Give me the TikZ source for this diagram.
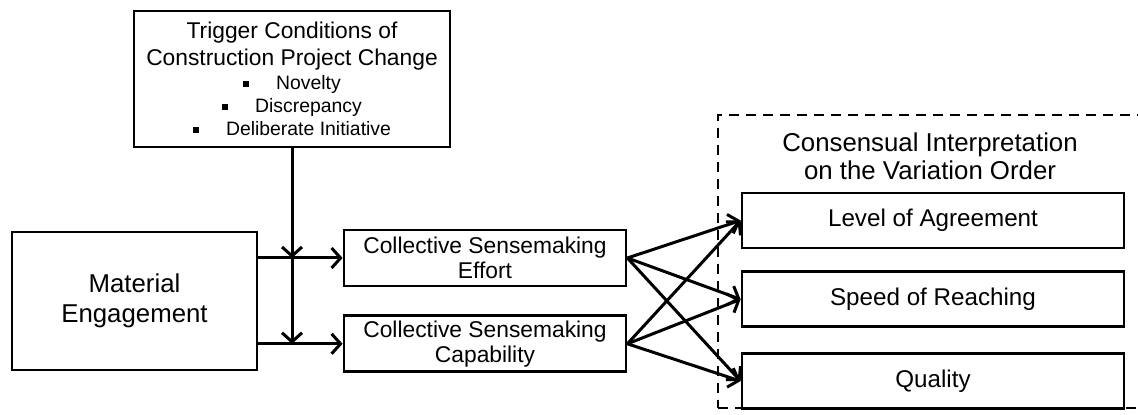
\documentclass[tikz,border=0pt]{standalone}
\usepackage{fontspec}
\setmainfont{Liberation Sans}
\usepackage{tikz}
\usetikzlibrary{arrows.meta,positioning,calc}
\tikzset{
  block/.style={draw, line width=1.4pt, align=center, inner sep=0pt, fill=white},
  trigger/.style={block, minimum width=158pt, minimum height=68pt,
    font=\fontsize{11.4}{13.5}\selectfont},
  source/.style={block, minimum width=122.5pt, minimum height=69pt,
    font=\fontsize{12.9}{15}\selectfont},
  sensemaking/.style={block, minimum width=141pt, minimum height=28pt,
    font=\fontsize{11.4}{12.5}\selectfont},
  outcome/.style={block, minimum width=191pt, minimum height=27.5pt,
    font=\fontsize{12.1}{14}\selectfont},
  frame/.style={draw, line width=1.4pt, dash pattern=on 5pt off 3.5pt,
    minimum width=221pt, minimum height=146.5pt, inner sep=0pt},
  wire/.style={-{Straight Barb[length=4.5pt, width=10pt]}, line width=1.5pt},
  titletext/.style={align=center, font=\fontsize{12.9}{14}\selectfont}
}
\newcommand{\bulletmark}{\raisebox{1.3pt}{\rule{3pt}{3pt}}\hspace{13.5pt}}
\newcommand{\itemfont}{\fontsize{9.7}{11.75}\selectfont}

\begin{document}
\begin{tikzpicture}[x=0.5pt, y=-0.5pt]
  \useasboundingbox (0,0) rectangle (1138,415);
  % outcome frame
  \node[frame] (consensus) at (939,261.5) {};
  \node[titletext] (consensustitle) at (930,156) {Consensual Interpretation\\on the Variation Order};
  \node[outcome] (level) at (933,220.5) {Level of Agreement};
  \node[outcome, below=10.5pt of level] (speed) {Speed of Reaching};
  \node[outcome, below=12pt of speed] (quality) {Quality};
  % left side
  \node[trigger] (trigger) at (292,79) {Trigger Conditions of\\Construction Project Change\\[-1.5pt]
    \itemfont\bulletmark Novelty\\[-2pt]
    \itemfont\bulletmark Discrepancy\\[-2pt]
    \itemfont\bulletmark Deliberate Initiative};
  \node[source] (material) at (134.5,301) {Material\\Engagement};
  \node[sensemaking] (effort) at (485,258) {Collective Sensemaking\\Effort};
  \node[sensemaking, below=13.5pt of effort] (capability) {Collective Sensemaking\\Capability};
  \draw[wire] (material.east |- effort.west) -- (effort.west);
  \draw[wire] (material.east |- capability.west) -- (capability.west);
  \draw[wire] (trigger.south) -- (trigger.south |- effort.west);
  \draw[wire] (trigger.south |- effort.west) -- (trigger.south |- capability.west);
  \foreach \from in {effort,capability}
    \foreach \to in {level,speed,quality}
      \draw[wire] (\from.east) -- (\to.west);
\end{tikzpicture}
\end{document}
